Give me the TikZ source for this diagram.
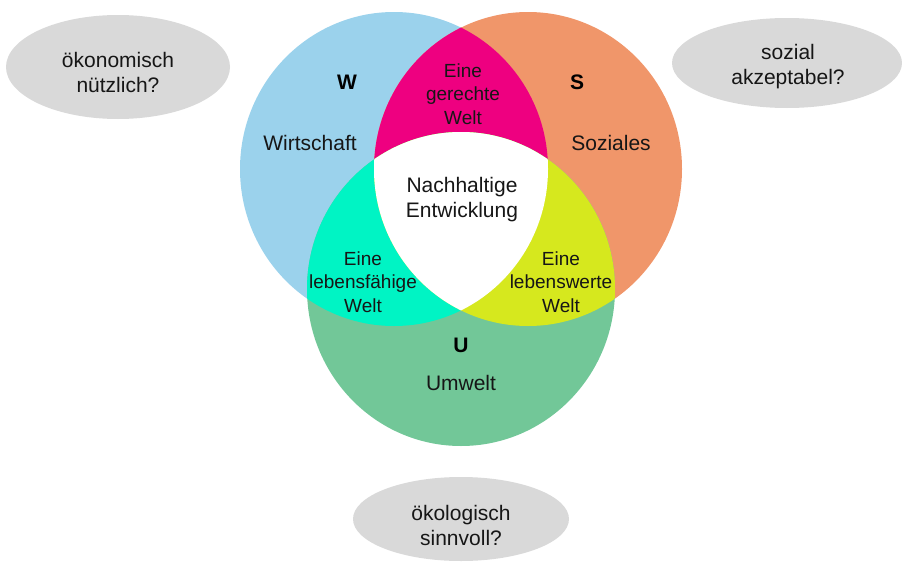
\documentclass[tikz,border=0pt]{standalone}
\usepackage{fontspec}
\setmainfont{Liberation Sans}
\definecolor{blueC}{RGB}{155,210,236}
\definecolor{orangeC}{RGB}{240,150,106}
\definecolor{greenC}{RGB}{114,199,152}
\definecolor{pinkC}{RGB}{238,0,128}
\definecolor{cyanC}{RGB}{0,244,196}
\definecolor{yellowC}{RGB}{214,232,30}
\definecolor{grayC}{RGB}{217,217,217}
\definecolor{txtC}{RGB}{22,22,22}
\tikzset{
  big/.style={font=\fontsize{21}{25}\selectfont, text=txtC, align=center, inner sep=0pt},
  small/.style={font=\fontsize{19}{23.5}\selectfont, text=txtC, align=center, inner sep=0pt},
  letter/.style={font=\fontsize{21}{25}\selectfont\bfseries, text=black, inner sep=0pt},
  bubble/.style={fill=grayC},
  venn/.style={x radius=154pt, y radius=157pt}
}
\begin{document}
\begin{tikzpicture}[x=1pt,y=-1pt]
\useasboundingbox (0,0) rectangle (902,562);
\coordinate (W) at (394,169);
\coordinate (S) at (528,169);
\coordinate (U) at (461,289);
% base circles
\fill[blueC] (W) ellipse [venn];
\fill[orangeC] (S) ellipse [venn];
\fill[greenC] (U) ellipse [venn];
% pairwise intersections
\begin{scope}
  \clip (W) ellipse [venn];
  \fill[pinkC] (S) ellipse [venn];
  \fill[cyanC] (U) ellipse [venn];
\end{scope}
\begin{scope}
  \clip (S) ellipse [venn];
  \fill[yellowC] (U) ellipse [venn];
\end{scope}
\begin{scope}
  \clip (W) ellipse [venn];
  \clip (S) ellipse [venn];
  \fill[white] (U) ellipse [venn];
\end{scope}
% question bubbles
\fill[bubble] (118,67) ellipse [x radius=112pt, y radius=52pt];
\fill[bubble] (787,63) ellipse [x radius=115pt, y radius=45pt];
\fill[bubble] (461,519) ellipse [x radius=108pt, y radius=42pt];
% labels
\node[letter] (lw) at (347,82) {W};
\node[letter] (ls) at (577,82) {S};
\node[letter] (lu) at (461,345) {U};
\node[big] (tw) at (310,143) {Wirtschaft};
\node[big] (ts) at (611,143) {Soziales};
\node[big] (tu) at (461,383) {Umwelt};
\node[small] (tg) at (463,94) {Eine\\gerechte\\Welt};
\node[big] (tn) at (462,200) {Nachhaltige\\Entwicklung};
\node[small] (tl) at (363,282) {Eine\\lebensfähige\\Welt};
\node[small] (tr) at (561,282) {Eine\\lebenswerte\\Welt};
\node[big] (q1) at (118,72) {ökonomisch\\nützlich?};
\node[big] (q2) at (788,67) {sozial\\akzeptabel?};
\node[big] (q3) at (461,525) {ökologisch\\sinnvoll?};
\end{tikzpicture}
\end{document}
